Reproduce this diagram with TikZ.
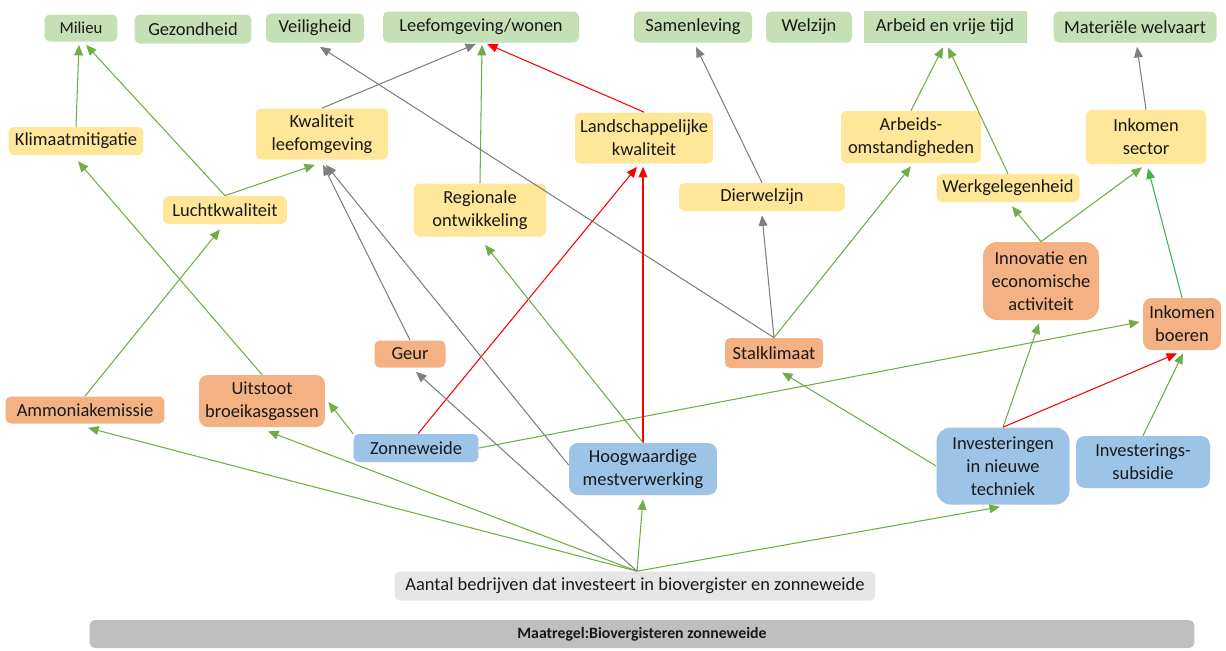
\documentclass[tikz,border=0pt]{standalone}
\usepackage{fontspec}
\setmainfont{Carlito}
\usepackage{xcolor}
\usepackage{tikz}
\usetikzlibrary{arrows.meta, positioning, calc}

\definecolor{themagroen}{HTML}{C5E0B4}
\definecolor{effectgeel}{HTML}{FFE699}
\definecolor{drukoranje}{HTML}{F4B183}
\definecolor{actieblauw}{HTML}{9DC3E6}
\definecolor{aantalgrijs}{HTML}{E6E6E6}
\definecolor{balkgrijs}{HTML}{BFBFBF}
\definecolor{pijlgroen}{HTML}{70AD47}
\definecolor{pijlfel}{HTML}{3CB44B}
\definecolor{pijlgrijs}{HTML}{7F7F7F}
\definecolor{pijlrood}{HTML}{FF0000}

\begin{document}
\begin{tikzpicture}[
    x=0.02cm, y=-0.02cm,
    box/.style={rectangle, rounded corners=3pt, inner sep=0pt, align=center, font=\fontsize{10.5}{13}\selectfont, text=black!90},
    thema/.style={box, fill=themagroen},
    effect/.style={box, fill=effectgeel},
    druk/.style={box, fill=drukoranje, rounded corners=5pt},
    actie/.style={box, fill=actieblauw, rounded corners=5pt},
    arrow/.style={-{Triangle[length=6pt, width=5pt]}, line width=0.6pt},
    plus/.style={arrow, color=pijlgroen},
    neutraal/.style={arrow, color=pijlgrijs},
    min/.style={arrow, color=pijlrood},
]
\useasboundingbox (0,0) rectangle (1226,650);

% thema's bovenaan
\node[thema, minimum width=1.46cm, minimum height=0.54cm, font=\fontsize{9.5}{12}\selectfont] (milieu) at (81,28) {Milieu};
\node[thema, minimum width=2.34cm, minimum height=0.58cm] (gezond) at (193,29) {Gezondheid};
\node[thema, minimum width=1.96cm, minimum height=0.58cm] (veilig) at (315,28) {Veiligheid};
\node[thema, minimum width=3.92cm, minimum height=0.62cm] (leef) at (481,27) {Leefomgeving/wonen};
\node[thema, minimum width=2.36cm, minimum height=0.62cm] (samen) at (693,27) {Samenleving};
\node[thema, minimum width=1.72cm, minimum height=0.62cm] (welzijn) at (809,27) {Welzijn};
\node[thema, sharp corners, minimum width=3.26cm, minimum height=0.64cm] (arbeid) at (945,27) {Arbeid en vrije tijd};
\node[thema, minimum width=3.26cm, minimum height=0.62cm] (materieel) at (1135,27) {Materiële welvaart};

% effecten
\node[effect, minimum width=2.7cm, minimum height=0.56cm] (klimaat) at (76,141) {Klimaatmitigatie};
\node[effect, minimum width=2.64cm, minimum height=1.02cm] (kwaliteit) at (322,134) {Kwaliteit\\leefomgeving};
\node[effect, minimum width=2.48cm, minimum height=0.56cm] (lucht) at (225,210) {Luchtkwaliteit};
\node[effect, minimum width=2.64cm, minimum height=1.06cm] (regio) at (480,210) {Regionale\\ontwikkeling};
\node[effect, minimum width=2.76cm, minimum height=1.02cm] (landschap) at (644,138) {Landschappelijke\\kwaliteit};
\node[effect, minimum width=3.32cm, minimum height=0.56cm] (dier) at (762,197) {Dierwelzijn};
\node[effect, minimum width=2.8cm, minimum height=1.04cm] (arbomst) at (911,137) {Arbeids-\\omstandigheden};
\node[effect, minimum width=2.86cm, minimum height=0.56cm] (werk) at (1008,188) {Werkgelegenheid};
\node[effect, minimum width=2.4cm, minimum height=1.08cm] (inksec) at (1146,137) {Inkomen\\sector};

% drukfactoren
\node[druk, rounded corners=3pt, minimum width=3.18cm, minimum height=0.54cm] (ammoniak) at (85,410) {Ammoniakemissie};
\node[druk, minimum width=2.52cm, minimum height=1.04cm] (uitstoot) at (262,401) {Uitstoot\\broeikasgassen};
\node[druk, rounded corners=3pt, minimum width=1.42cm, minimum height=0.54cm] (geur) at (410,354) {Geur};
\node[druk, rounded corners=3pt, minimum width=1.96cm, minimum height=0.6cm] (stal) at (774,353) {Stalklimaat};
\node[druk, rounded corners=8pt, minimum width=2.32cm, minimum height=1.56cm] (innov) at (1041,281) {Innovatie en\\economische\\activiteit};
\node[druk, minimum width=1.56cm, minimum height=1.04cm] (inkboer) at (1182,324) {Inkomen\\boeren};

% maatregelen
\node[actie, rounded corners=3pt, minimum width=2.5cm, minimum height=0.56cm] (zon) at (416,448) {Zonneweide};
\node[actie, minimum width=2.96cm, minimum height=1.04cm] (hoog) at (643,469) {Hoogwaardige\\mestverwerking};
\node[actie, rounded corners=8pt, minimum width=2.66cm, minimum height=1.54cm] (invest) at (1003,466) {Investeringen\\in nieuwe\\techniek};
\node[actie, minimum width=2.68cm, minimum height=1.04cm] (subsidie) at (1143,462) {Investerings-\\subsidie};

% onderkant
\node[box, fill=aantalgrijs, minimum width=9.62cm, minimum height=0.58cm] (aantal) at (635,586) {Aantal bedrijven dat investeert in biovergister en zonneweide};
\node[box, fill=balkgrijs, minimum width=22.1cm, minimum height=0.56cm, font=\fontsize{9}{10}\selectfont\bfseries] (maatregel) at (642,634) {Maatregel:Biovergisteren zonneweide};

\coordinate (hub) at ($(aantal.north)+(2,0)$);

% pijlen
\draw[plus] (klimaat.north) -- ($(milieu.south)+(-2,3)$);
\draw[plus] (lucht.north) -- ($(milieu.south)+(5,3)$);
\draw[plus] (lucht.north) -- ($(kwaliteit.south)+(-7,5)$);
\draw[neutraal] (kwaliteit.north) -- ($(leef.south)+(-5,1)$);
\draw[plus] (regio.north) -- ($(leef.south)+(1,2)$);
\draw[min] (landschap.north) -- ($(leef.south)+(6,1)$);
\draw[neutraal] (stal.north) -- ($(veilig.south)+(5,4)$);
\draw[neutraal] (dier.north) -- ($(samen.south)+(3,4)$);
\draw[neutraal] (stal.north) -- ($(dier.south)+(0,4)$);
\draw[plus] (stal.north) -- ($(arbomst.south)+(0,3)$);
\draw[plus] (arbomst.north) -- ($(arbeid.south)+(-2,4)$);
\draw[plus] (werk.north) -- ($(arbeid.south)+(3,4)$);
\draw[neutraal] (inksec.north) -- ($(materieel.south)+(2,4)$);
\draw[plus] (innov.north) -- ($(werk.south)+(4,4)$);
\draw[plus] (innov.north) -- ($(inksec.south)+(-4,3)$);
\draw[arrow, color=pijlfel] (inkboer.north) -- ($(inksec.south)+(2,4)$);
\draw[plus] (invest.north) -- ($(innov.south)+(-2,3)$);
\draw[min] (invest.north) -- ($(inkboer.south)+(-5,3)$);
\draw[plus] (subsidie.north) -- ($(inkboer.south)+(1,3)$);
\draw[plus] (invest.west) -- ($(stal.south)+(8,4)$);
\draw[plus] (zon.east) -- ($(inkboer.west)+(-3,-2)$);
\draw[plus] (zon.north west) -- ($(uitstoot.east)+(3,1)$);
\draw[min] ($(zon.north)+(2,0)$) -- ($(landschap.south)+(-7,3)$);
\draw[min] (hoog.north) -- ($(landschap.south)+(-1,3)$);
\draw[plus] (hoog.north) -- ($(regio.south)+(5,8)$);
\draw[neutraal] ($(hoog.west)+(0,-4)$) -- ($(kwaliteit.south)+(4,5)$);
\draw[neutraal] (geur.north) -- ($(kwaliteit.south)+(1,5)$);
\draw[plus] (uitstoot.north) -- ($(klimaat.south)+(2,6)$);
\draw[plus] (ammoniak.north) -- ($(lucht.south)+(-5,5)$);

% vanuit aantal bedrijven
\draw[plus] (hub) -- ($(ammoniak.south)+(3,4)$);
\draw[plus] (hub) -- ($(uitstoot.south)+(6,4)$);
\draw[neutraal] (hub) -- ($(geur.south)+(6,4)$);
\draw[plus] (hub) -- ($(hoog.south)+(0,4)$);
\draw[plus] (hub) -- ($(invest.south)+(-3,2)$);

\end{tikzpicture}
\end{document}
